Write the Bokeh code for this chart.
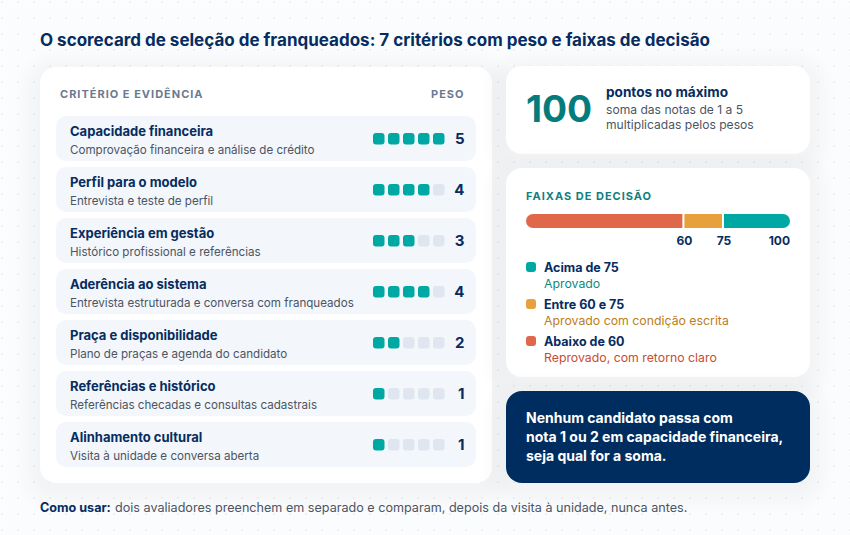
from bokeh.core.properties import value
from bokeh.embed import file_html
from bokeh.models import ColumnDataSource, Range1d
from bokeh.plotting import figure
from bokeh.resources import INLINE

TITLE = "O scorecard de seleção de franqueados: 7 critérios com peso e faixas de decisão"
criteria = [
    "Capacidade financeira",
    "Perfil para o modelo",
    "Experiência em gestão",
    "Aderência ao sistema",
    "Praça e disponibilidade",
    "Referências e histórico",
    "Alinhamento cultural",
]
evidence = [
    "Comprovação financeira e análise de crédito",
    "Entrevista e teste de perfil",
    "Histórico profissional e referências",
    "Entrevista estruturada e conversa com franqueados",
    "Plano de praças e agenda do candidato",
    "Referências checadas e consultas cadastrais",
    "Visita à unidade e conversa aberta",
]
weights = [5, 4, 3, 4, 2, 1, 1]
max_weight = 5

band_edges = [0, 60, 75, 100]
band_colors = ["#e0674a", "#e6a03c", "#00a8a3"]
band_ticks = [60, 75, 100]
legend_names = ["Acima de 75", "Entre 60 e 75", "Abaixo de 60"]
legend_notes = ["Aprovado", "Aprovado com condição escrita", "Reprovado, com retorno claro"]
legend_colors = ["#00a8a3", "#e6a03c", "#e0674a"]
legend_note_colors = ["#0d8a80", "#bd7c20", "#c94c30"]

NAVY = "#062c60"
GREY = "#4b5563"
TEAL = "#00a8a3"
EMPTY = "#dfe6f0"
FONT = value("Inter")

W, H = 850, 535


def make_figure(bg, **styles):
    fig = figure(
        width=W,
        height=H,
        x_range=Range1d(0.5, W + 0.5),
        y_range=Range1d(H + 0.5, 0.5),
        toolbar_location=None,
        output_backend="svg",
        background_fill_color=bg,
        border_fill_color=bg,
        outline_line_color=None,
        min_border=0,
        styles={"position": "absolute", "left": "0px", "top": "0px", **styles},
    )
    fig.axis.visible = False
    fig.grid.visible = False
    return fig


p = make_figure("#fbfcfe")
# second layer on top, only for the letter-spaced small caps labels
spaced = make_figure(None, **{"letter-spacing": "1px"})


def txt(x, y, s, size, color, bold=False, align="left", fig=p):
    fig.text(
        x=[x], y=[y - 0.36 * size], text=[s],
        text_font=FONT,
        text_font_size=f"{size}px",
        text_font_style="bold" if bold else "normal",
        text_color=color,
        text_align=align,
        text_baseline="alphabetic",
    )


def card(l, t, r, b, color="#ffffff", radius=16):
    for grow in (24, 21, 18, 15, 12, 9, 6, 3):
        p.quad(
            left=l - grow, right=r + grow, top=t - grow + 6, bottom=b + grow + 6,
            fill_color="#0f2b5b", fill_alpha=0.005, line_color=None,
            border_radius=radius + grow,
        )
    p.quad(left=l, right=r, top=t, bottom=b, fill_color=color, line_color=None, border_radius=radius)


# dotted page background
dot_x = [2 + 16 * i for i in range(54)]
dot_y = [2 + 16 * j for j in range(34)]
p.scatter(
    x=[x for x in dot_x for _ in dot_y],
    y=[y for _ in dot_x for y in dot_y],
    size=2, marker="circle", fill_color="#eceff5", line_color=None,
)

txt(40, 46.5, TITLE, 17, NAVY, bold=True)

# left card: criteria and weights
card(40, 67, 492, 483)
txt(60, 98, "CRITÉRIO E EVIDÊNCIA", 11, "#6b7a90", bold=True, fig=spaced)
txt(431, 98, "PESO", 11, "#6b7a90", bold=True, fig=spaced)

ROW_TOP, ROW_STEP, ROW_H = 116, 51, 45
for i, (name, note, weight) in enumerate(zip(criteria, evidence, weights)):
    top = ROW_TOP + i * ROW_STEP
    p.quad(left=56, right=476, top=top, bottom=top + ROW_H, fill_color="#f3f6fa", line_color=None, border_radius=10)
    txt(70, top + 20, name, 13, NAVY, bold=True)
    txt(70, top + 38.5, note, 11.6, GREY)
    src = ColumnDataSource({
        "left": [373 + 15 * k for k in range(max_weight)],
        "right": [384.5 + 15 * k for k in range(max_weight)],
        "color": [TEAL if k < weight else EMPTY for k in range(max_weight)],
    })
    p.quad(left="left", right="right", top=top + 17, bottom=top + 28.5, fill_color="color", line_color=None,
           border_radius=3, source=src)
    txt(464.5, top + 28, str(weight), 15, NAVY, bold=True, align="right")

# total card
card(506, 66, 810, 154)
txt(526, 122, "100", 37.2, "#057c7c", bold=True)
txt(606, 97, "pontos no máximo", 13.6, NAVY, bold=True)
txt(606, 114, "soma das notas de 1 a 5", 12.1, GREY)
txt(606, 129, "multiplicadas pelos pesos", 12.1, GREY)

# decision bands card
card(506, 168, 810, 377)
txt(526, 200, "FAIXAS DE DECISÃO", 11, "#0f7f7f", bold=True, fig=spaced)

BAR_L, BAR_W = 526, 264


def bar_x(v):
    return BAR_L + v / band_edges[-1] * BAR_W


for k, color in enumerate(band_colors):
    lo, hi = band_edges[k], band_edges[k + 1]
    p.quad(left=bar_x(lo), right=bar_x(hi) - (2 if k < 2 else 0), top=214, bottom=228, fill_color=color, line_color=None,
           border_radius=[(7, 0, 0, 7), 0, (0, 7, 7, 0)][k])
for tick in band_ticks:
    txt(bar_x(tick), 245, str(tick), 12, NAVY, bold=True,
        align="right" if tick == band_edges[-1] else "center")

for k, (name, note) in enumerate(zip(legend_names, legend_notes)):
    y = 262 + k * 37
    p.quad(left=526, right=536, top=y, bottom=y + 10, fill_color=legend_colors[k], line_color=None, border_radius=3)
    txt(544, y + 10, name, 12.5, NAVY, bold=True)
    txt(544, y + 26, note, 12.3, legend_note_colors[k])

# rule card
card(506, 391, 810, 483, color="#002d5f")
rule_lines = ["Nenhum candidato passa com", "nota 1 ou 2 em capacidade financeira,", "seja qual for a soma."]
for k, line in enumerate(rule_lines):
    txt(526, 423 + k * 19, line, 14, "#ffffff", bold=True)

txt(40, 512.5, "Como usar:", 12.6, NAVY, bold=True)
txt(115, 512.5, "dois avaliadores preenchem em separado e comparam, depois da visita à unidade, nunca antes.", 12.6, GREY)

open("out.html", "w").write(file_html((p, spaced), INLINE))
